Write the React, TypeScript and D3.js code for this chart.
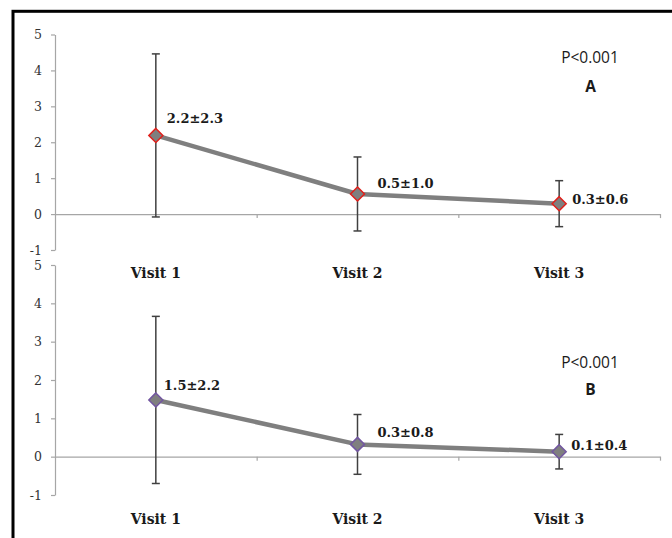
import React, { useEffect, useRef } from 'react';
import * as d3 from 'd3';

// values
const visits = ['Visit 1', 'Visit 2', 'Visit 3'];

const meanA = [2.19, 0.56, 0.29];
const sdA = [2.27, 1.03, 0.64];
const labelA = ['2.2±2.3', '0.5±1.0', '0.3±0.6'];

const meanB = [1.48, 0.32, 0.13];
const sdB = [2.18, 0.78, 0.45];
const labelB = ['1.5±2.2', '0.3±0.8', '0.1±0.4'];

const yTicks = [-1, 0, 1, 2, 3, 4, 5];
const pText = 'P<0.001';

const W = 672;
const H = 538;
const X0 = 55;
const X1 = 660;

const panels = [
  {
    id: 'A', mean: meanA, sd: sdA, labels: labelA,
    yRange: [250, 34.5], catY: 278, pY: 62.7, letterY: 91.7,
    markerStroke: '#e0201b',
    offsets: [[11, -12], [20, -6], [13, 0]],
  },
  {
    id: 'B', mean: meanB, sd: sdB, labels: labelB,
    yRange: [495, 265], catY: 524, pY: 368, letterY: 395,
    markerStroke: '#7256a0',
    offsets: [[8, -10], [20, -7], [12, -2]],
  },
];

const serif = '"DejaVu Serif", serif';
const sans = '"Open Sans", "Liberation Sans", sans-serif';

const App = () => {
  const svgRef = useRef<SVGSVGElement>(null);

  useEffect(() => {
    const svg = d3.select(svgRef.current);
    svg.selectAll('*').remove();

    // outer frame (runs off the right and bottom edges)
    svg.append('rect')
      .attr('x', 13).attr('y', 11.3)
      .attr('width', 720).attr('height', 600)
      .attr('fill', '#fff')
      .attr('stroke', '#000')
      .attr('stroke-width', 3);

    const x = d3.scaleBand().domain(visits).range([X0, X1]).padding(0);
    const xEdges = d3.scaleLinear().domain([0, visits.length]).range([X0, X1]);

    panels.forEach((p) => {
      const y = d3.scaleLinear().domain([-1, 5]).range(p.yRange);
      const g = svg.append('g');

      // y axis
      const yAxis = g.append('g')
        .attr('transform', `translate(${X0},0)`)
        .call(d3.axisLeft(y).tickValues(yTicks).tickFormat((d) => String(d)).tickSize(4).tickSizeOuter(0).tickPadding(9));
      yAxis.selectAll('path, line').attr('stroke', '#a6a6a6').attr('stroke-width', 1.2);
      yAxis.attr('font-size', null).attr('font-family', null);
      yAxis.selectAll('text')
        .attr('fill', '#333')
        .style('font-family', serif)
        .style('font-size', '12.5px');

      // x axis on zero line, ticks on category edges
      const xAxis = g.append('g')
        .attr('transform', `translate(0,${y(0)})`)
        .call(d3.axisBottom(xEdges).tickValues(d3.range(1, visits.length + 1)).tickFormat(() => '').tickSize(4).tickSizeOuter(0));
      xAxis.selectAll('path, line').attr('stroke', '#a6a6a6').attr('stroke-width', 1.2);

      // category labels
      g.selectAll('.cat')
        .data(visits)
        .join('text')
        .attr('class', 'cat')
        .attr('x', (d) => (x(d) as number) + x.bandwidth() / 2)
        .attr('y', p.catY)
        .attr('text-anchor', 'middle')
        .attr('fill', '#1a1a1a')
        .style('font-family', serif)
        .style('font-weight', 'bold')
        .style('font-size', '14px')
        .text((d) => d);

      const pts = visits.map((v, i) => ({
        cx: (x(v) as number) + x.bandwidth() / 2,
        m: p.mean[i],
        s: p.sd[i],
        label: p.labels[i],
        off: p.offsets[i],
      }));

      // error bars
      const eb = g.append('g').attr('stroke', '#404040').attr('stroke-width', 1.5).attr('fill', 'none');
      pts.forEach((d) => {
        eb.append('line').attr('x1', d.cx).attr('x2', d.cx).attr('y1', y(d.m + d.s)).attr('y2', y(d.m - d.s));
        eb.append('line').attr('x1', d.cx - 4).attr('x2', d.cx + 4).attr('y1', y(d.m + d.s)).attr('y2', y(d.m + d.s));
        eb.append('line').attr('x1', d.cx - 4).attr('x2', d.cx + 4).attr('y1', y(d.m - d.s)).attr('y2', y(d.m - d.s));
      });

      // mean line
      const line = d3.line<typeof pts[number]>().x((d) => d.cx).y((d) => y(d.m));
      g.append('path')
        .datum(pts)
        .attr('d', line)
        .attr('fill', 'none')
        .attr('stroke', '#7f7f7f')
        .attr('stroke-width', 4.5)
        .attr('stroke-linejoin', 'round');

      // diamond markers
      const diamond = d3.symbol().type(d3.symbolDiamond2).size(125);
      g.selectAll('.mk')
        .data(pts)
        .join('path')
        .attr('class', 'mk')
        .attr('d', diamond)
        .attr('transform', (d) => `translate(${d.cx},${y(d.m)})`)
        .attr('fill', '#7f7f7f')
        .attr('stroke', p.markerStroke)
        .attr('stroke-width', 1.5);

      // data labels
      g.selectAll('.lbl')
        .data(pts)
        .join('text')
        .attr('class', 'lbl')
        .attr('x', (d) => d.cx + d.off[0])
        .attr('y', (d) => y(d.m) + d.off[1])
        .attr('fill', '#1a1a1a')
        .style('font-family', serif)
        .style('font-weight', 'bold')
        .style('font-size', '13px')
        .text((d) => d.label);

      // p value and panel letter
      g.append('text')
        .attr('x', 590).attr('y', p.pY)
        .attr('text-anchor', 'middle')
        .attr('fill', '#1a1a1a')
        .style('font-family', sans)
        .style('font-size', '15.5px')
        .text(pText);
      g.append('text')
        .attr('x', 590.5).attr('y', p.letterY)
        .attr('text-anchor', 'middle')
        .attr('fill', '#1a1a1a')
        .style('font-family', sans)
        .style('font-weight', 'bold')
        .style('font-size', '15.5px')
        .text(p.id);
    });
  }, []);

  return (
    <svg
      ref={svgRef}
      width={W}
      height={H}
      style={{ position: 'absolute', left: 0, top: 0, background: '#fff' }}
    />
  );
};

export default App;
